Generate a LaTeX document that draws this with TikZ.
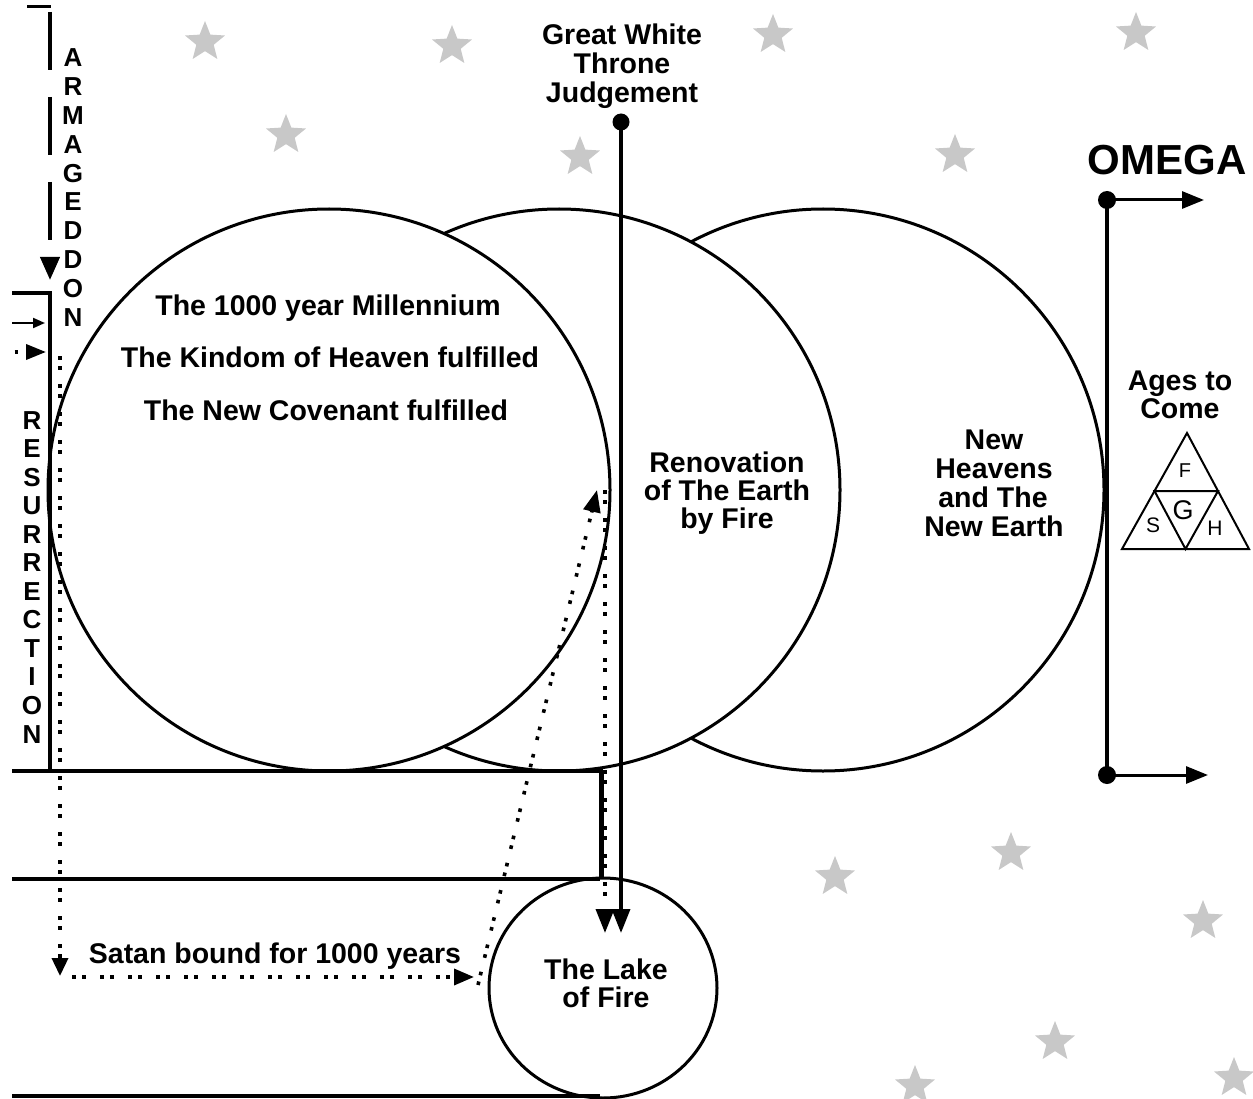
\documentclass[tikz,border=0pt]{standalone}
\usepackage{fontspec}
\setmainfont{Liberation Sans}
\usetikzlibrary{arrows.meta,shapes.geometric}
\definecolor{stargray}{HTML}{C8C8C8}
\begin{document}
\begin{tikzpicture}[x=1pt,y=-1pt,
  ring/.style={circle, draw, line width=3pt, fill=white, minimum size=562pt, inner sep=0pt},
  txt/.style={font=\fontsize{28.5}{29}\selectfont\bfseries, anchor=base, inner sep=0pt},
  letter/.style={font=\fontsize{26}{26}\selectfont\bfseries, anchor=base, inner sep=0pt},
  tri/.style={font=\fontsize{20}{20}\selectfont, inner sep=0pt},
  star5/.style={star, star points=5, star point ratio=2.3, fill=stargray, minimum size=42pt, inner sep=0pt},
  bar/.style={line width=4pt},
  dots/.style={line width=3.6pt, dash pattern=on 3.6pt off 6.4pt on 3.6pt off 14.4pt},
  tipA/.style={-{Triangle[length=22pt,width=17pt]}},
  tipB/.style={-{Triangle[length=24pt,width=18pt]}},
]
\useasboundingbox (0,0) rectangle (1253,1099);

% stars
\foreach \n/\px/\py in {1/205/42, 2/452/46, 3/773/35, 4/1136/33, 5/286/135, 6/580/157, 7/955/155,
  8/835/877, 9/1011/853, 10/1203/921, 11/1055/1042, 12/915/1086, 13/1234/1078}
  \node[star5] (s\n) at (\px,\py) {};

% circles
\node[ring] (c3) at (823,490) {};
\node[ring] (c2) at (559,490) {};
\node[ring] (c1) at (329,490) {};
\node[ellipse, draw, line width=3pt, fill=white, minimum width=228pt, minimum height=220pt, inner sep=0pt] (lake) at (603,988) {};

% horizontal lines
\coordinate (h1l) at (12,771); \coordinate (h1r) at (603,771);
\coordinate (h2l) at (12,879); \coordinate (h2r) at (600,879);
\coordinate (h3l) at (12,1096); \coordinate (h3r) at (600,1096);
\draw[bar] (h1l) -- (h1r);
\draw[bar] (h2l) -- (h2r);
\draw[bar] (h3l) -- (h3r);
\coordinate (vb1) at (601,771); \coordinate (vb2) at (601,879);
\draw[line width=5pt] (vb1) -- (vb2);

% Armageddon marker
\coordinate (tl1) at (27,7); \coordinate (tl2) at (51,7);
\draw[line width=3pt] (tl1) -- (tl2);
\coordinate (arm1) at (50,12); \coordinate (arm2) at (50,280);
\draw[line width=4pt, dash pattern=on 58pt off 27pt, -{Triangle[length=23pt,width=19pt]}] (arm1) -- (arm2);

% resurrection bracket
\coordinate (br1) at (12,293); \coordinate (br2) at (50,293); \coordinate (br3) at (50,771);
\draw[bar] (br1) -- (br2) -- (br3);
\coordinate (sa1) at (12,323); \coordinate (sa2) at (45,323);
\draw[line width=2pt, -{Triangle[length=12pt,width=10pt]}] (sa1) -- (sa2);
\coordinate (da1) at (14.5,352); \coordinate (da2) at (46,352);
\draw[line width=3.6pt, dash pattern=on 3.6pt off 20pt, -{Triangle[length=20pt,width=15pt]}] (da1) -- (da2);

% dotted paths
\coordinate (rv1) at (60,356); \coordinate (rv2) at (60,976);
\draw[dots, -{Triangle[length=18pt,width=16pt]}] (rv1) -- (rv2);
\coordinate (sh1) at (72,977); \coordinate (sh2) at (474,977);
\draw[dots, -{Triangle[length=20pt,width=16pt]}] (sh1) -- (sh2);
\coordinate (sl1) at (478,985); \coordinate (sl2) at (597,490);
\draw[dots, tipA] (sl1) -- (sl2);
\coordinate (dv1) at (605,490); \coordinate (dv2) at (605,933);
\draw[dots, tipB] (dv1) -- (dv2);

% Great White Throne line
\coordinate (gwt) at (621,122); \coordinate (gwtend) at (621,933);
\draw[line width=3.5pt, tipB] (gwt) -- (gwtend);
\fill (gwt) circle (8.5);

% Omega
\coordinate (om1) at (1107,200); \coordinate (om2) at (1107,775);
\coordinate (om1e) at (1204,200); \coordinate (om2e) at (1208,775);
\draw[line width=4pt] (om1) -- (om2);
\draw[line width=3pt, tipA] (om1) -- (om1e);
\draw[line width=3pt, tipA] (om2) -- (om2e);
\fill (om1) circle (9);
\fill (om2) circle (9);

% triangle
\coordinate (ta) at (1187,433); \coordinate (tbl) at (1122,549); \coordinate (tbr) at (1249,549);
\coordinate (tml) at (1154.5,491); \coordinate (tmr) at (1218,491); \coordinate (tmb) at (1185.5,549);
\draw[line width=2pt, line join=miter] (ta) -- (tbl) -- (tbr) -- cycle;
\draw[line width=2pt, line join=miter] (tml) -- (tmr) -- (tmb) -- cycle;
\node[tri] (tf) at (1185,471) {F};
\node[tri, font=\fontsize{27}{27}\selectfont] (tg) at (1183,510) {G};
\node[tri, font=\fontsize{21}{21}\selectfont] (ts) at (1153,525) {S};
\node[tri, font=\fontsize{21}{21}\selectfont] (th) at (1215,528) {H};

% texts
\node[txt] (gw1) at (622,45) {Great White};
\node[txt] (gw2) at (622,74) {Throne};
\node[txt] (gw3) at (622,103) {Judgement};
\node[txt, font=\fontsize{42}{42}\selectfont\bfseries] (omega) at (1167,175) {OMEGA};
\node[txt] (ag1) at (1180,390) {Ages to};
\node[txt] (ag2) at (1180,418) {Come};
\node[txt] (m1) at (328,316) {The 1000 year Millennium};
\node[txt] (m2) at (330,367) {The Kindom of Heaven fulfilled};
\node[txt] (m3) at (326,420) {The New Covenant fulfilled};
\node[txt] (r1) at (727,472) {Renovation};
\node[txt] (r2) at (727,500) {of The Earth};
\node[txt] (r3) at (727,528) {by Fire};
\node[txt] (n1) at (994,449) {New};
\node[txt] (n2) at (994,478) {Heavens};
\node[txt] (n3) at (993,507) {and The};
\node[txt] (n4) at (994,536) {New Earth};
\node[txt] (sat) at (275,963) {Satan bound for 1000 years};
\node[txt] (lk1) at (606,979) {The Lake};
\node[txt] (lk2) at (606,1007) {of Fire};

% vertical words
\foreach \c [count=\i from 0] in {A,R,M,A,G,E,D,D,O,N}
  \node[letter] (arm\i) at (73,{66.5+28.9*\i}) {\c};
\foreach \c [count=\i from 0] in {R,E,S,U,R,R,E,C,T,I,O,N}
  \node[letter] (res\i) at (32,{429+28.55*\i}) {\c};
\end{tikzpicture}
\end{document}
